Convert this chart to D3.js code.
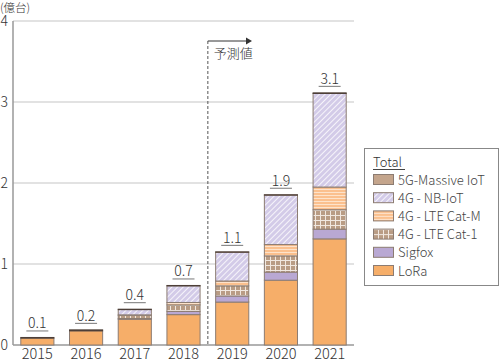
<!DOCTYPE html>
<html lang="ja">
<head>
<meta charset="UTF-8">
<title>IoT</title>
<style>
  body { margin: 0; background: #fff; }
  svg { display: block; font-family: "Noto Sans CJK JP", "Noto Sans", sans-serif; }
  .grid line { stroke: #d9d9d9; stroke-width: 1.5px; }
  .lbl { fill: #333; font-size: 14px; font-weight: 300; }
</style>
</head>
<body>
<script src="https://d3js.org/d3.v7.min.js"></script>
<script>
var years = ["2015", "2016", "2017", "2018", "2019", "2020", "2021"];
var lora   = [0.085, 0.175, 0.317, 0.375, 0.53, 0.80, 1.31];
var sigfox = [0, 0, 0.01, 0.04, 0.075, 0.10, 0.12];
var cat1   = [0, 0, 0.04, 0.08, 0.125, 0.20, 0.24];
var catM   = [0, 0, 0.005, 0.03, 0.06, 0.14, 0.28];
var nbiot  = [0, 0, 0.065, 0.205, 0.355, 0.61, 1.155];
var g5     = [0.008, 0.012, 0.005, 0.005, 0.005, 0.005, 0.008];
var totals = ["0.1", "0.2", "0.4", "0.7", "1.1", "1.9", "3.1"];
var yTicks = [0, 1, 2, 3, 4];

var seriesNames = ["LoRa", "Sigfox", "4G - LTE Cat-1", "4G - LTE Cat-M", "4G - NB-IoT", "5G-Massive IoT"];
var seriesVals = [lora, sigfox, cat1, catM, nbiot, g5];
var seriesFill = ["#f6ae69", "#b9a8d3", "url(#pCat1)", "url(#pCatM)", "url(#pNb)", "#c4a58c"];

var table = years.map(function(y, i) {
    var row = { year: y };
    seriesNames.forEach(function(s, k) { row[s] = seriesVals[k][i]; });
    return row;
});

var W = 500, H = 361;
var svg = d3.select("body").append("svg").attr("width", W).attr("height", H);

// patterns
var defs = svg.append("defs");
var p = defs.append("pattern").attr("id", "pNb").attr("patternUnits", "userSpaceOnUse")
    .attr("width", 4).attr("height", 4).attr("patternTransform", "rotate(45)");
p.append("rect").attr("width", 4).attr("height", 4).attr("fill", "#d3cbe8");
p.append("line").attr("x1", 0).attr("y1", 0).attr("x2", 0).attr("y2", 4)
    .attr("stroke", "#fff").attr("stroke-width", 1.6);
p = defs.append("pattern").attr("id", "pCatM").attr("patternUnits", "userSpaceOnUse")
    .attr("width", 6).attr("height", 3);
p.append("rect").attr("width", 6).attr("height", 3).attr("fill", "#fbc08e");
p.append("line").attr("x1", 0).attr("y1", 0.5).attr("x2", 6).attr("y2", 0.5)
    .attr("stroke", "#fde3cb").attr("stroke-width", 1);
p = defs.append("pattern").attr("id", "pCat1").attr("patternUnits", "userSpaceOnUse")
    .attr("width", 5).attr("height", 5);
p.append("rect").attr("width", 5).attr("height", 5).attr("fill", "#b99c84");
p.append("line").attr("x1", 0).attr("y1", 0.5).attr("x2", 5).attr("y2", 0.5)
    .attr("stroke", "#f1e8e0").attr("stroke-width", 1);
p.append("line").attr("x1", 0.5).attr("y1", 0).attr("x2", 0.5).attr("y2", 5)
    .attr("stroke", "#f1e8e0").attr("stroke-width", 1);

var x0 = 13, x1 = 354, yBase = 345, yTop = 21;
var x = d3.scaleBand().domain(years).range([x0, x1]).paddingInner(0.32).paddingOuter(0.16);
var y = d3.scaleLinear().domain([0, 4]).range([yBase, yTop]);

// grid
svg.append("g").attr("class", "grid").selectAll("line")
    .data(yTicks.filter(function(d) { return d > 0; })).enter().append("line")
    .attr("x1", x0).attr("x2", x1).attr("y1", function(d) { return y(d); }).attr("y2", function(d) { return y(d); });

// y tick labels
svg.append("g").selectAll("text").data(yTicks).enter().append("text")
    .attr("class", "lbl").attr("x", 8).attr("y", function(d) { return y(d) + 5; })
    .attr("text-anchor", "end").text(function(d) { return d; });
svg.append("text").attr("class", "lbl").attr("x", 0).attr("y", 12)
    .style("font-size", "11.5px").text("(億台)");

// axes lines
svg.append("line").attr("x1", x0).attr("x2", x0).attr("y1", yTop).attr("y2", yBase)
    .attr("stroke", "#999").attr("stroke-width", 1.5);
svg.append("line").attr("x1", x0).attr("x2", x1).attr("y1", yBase).attr("y2", yBase)
    .attr("stroke", "#999").attr("stroke-width", 1.5);

// stacked bars
var stack = d3.stack().keys(seriesNames)(table);
svg.append("g").selectAll("g").data(stack).enter().append("g")
    .attr("fill", function(d, i) { return seriesFill[i]; })
    .attr("stroke", function(d, i) { return i === 5 ? "#4d3f38" : "#8c7c72"; })
    .selectAll("rect").data(function(d) { return d.filter(function(e) { return e[1] - e[0] > 0; }); })
    .enter().append("rect")
    .attr("x", function(d) { return x(d.data.year); })
    .attr("width", x.bandwidth())
    .attr("y", function(d) { return y(d[1]); })
    .attr("height", function(d) { return y(d[0]) - y(d[1]); })
    .attr("stroke-width", 1);

// totals
var lastLayer = stack[stack.length - 1];
var tl = svg.append("g").selectAll("g").data(years).enter().append("g");
tl.append("text").attr("class", "lbl").attr("text-anchor", "middle")
    .attr("x", function(d) { return x(d) + x.bandwidth() / 2; })
    .attr("y", function(d, i) { return y(lastLayer[i][1]) - 9; })
    .text(function(d, i) { return totals[i]; });
tl.append("line").attr("stroke", "#777").attr("stroke-width", 1)
    .attr("x1", function(d) { return x(d) + x.bandwidth() / 2 - 11; })
    .attr("x2", function(d) { return x(d) + x.bandwidth() / 2 + 11; })
    .attr("y1", function(d, i) { return y(lastLayer[i][1]) - 6.5; })
    .attr("y2", function(d, i) { return y(lastLayer[i][1]) - 6.5; });

// x labels
svg.append("g").selectAll("text").data(years).enter().append("text")
    .attr("class", "lbl").attr("text-anchor", "middle")
    .attr("x", function(d) { return x(d) + x.bandwidth() / 2; })
    .attr("y", 358.5).style("font-size", "14.5px").text(function(d) { return d; });

// forecast marker
var fx = (x("2018") + x.bandwidth() + x("2019")) / 2;
svg.append("line").attr("x1", fx).attr("x2", fx).attr("y1", 41).attr("y2", yBase)
    .attr("stroke", "#555").attr("stroke-dasharray", "3,2");
svg.append("line").attr("x1", fx).attr("x2", 248).attr("y1", 41).attr("y2", 41)
    .attr("stroke", "#333");
svg.append("path").attr("d", "M246,37.5L252,41L246,44.5Z").attr("fill", "#333");
svg.append("text").attr("class", "lbl").attr("x", fx + 6).attr("y", 58)
    .style("font-size", "13px").text("予測値");

// legend
var lg = svg.append("g");
lg.append("rect").attr("x", 364.5).attr("y", 148.5).attr("width", 134).attr("height", 137)
    .attr("fill", "#fff").attr("stroke", "#888");
lg.append("text").attr("class", "lbl").attr("x", 373).attr("y", 167).style("font-size", "13px").text("Total");
lg.append("line").attr("x1", 373).attr("x2", 405).attr("y1", 169.5).attr("y2", 169.5).attr("stroke", "#444");
var order = [5, 4, 3, 2, 1, 0];
var li = lg.selectAll("g.it").data(order).enter().append("g")
    .attr("transform", function(d, i) { return "translate(373," + (179.5 + i * 18.2) + ")"; });
li.append("rect").attr("x", 0.5).attr("y", -5).attr("width", 20).attr("height", 10)
    .attr("fill", function(d) { return seriesFill[d]; }).attr("stroke", "#8c7c72");
li.append("text").attr("class", "lbl").attr("x", 25).attr("y", 5)
    .style("font-size", "13px").style("fill", "#444").text(function(d) { return seriesNames[d]; });
</script>
</body>
</html>
